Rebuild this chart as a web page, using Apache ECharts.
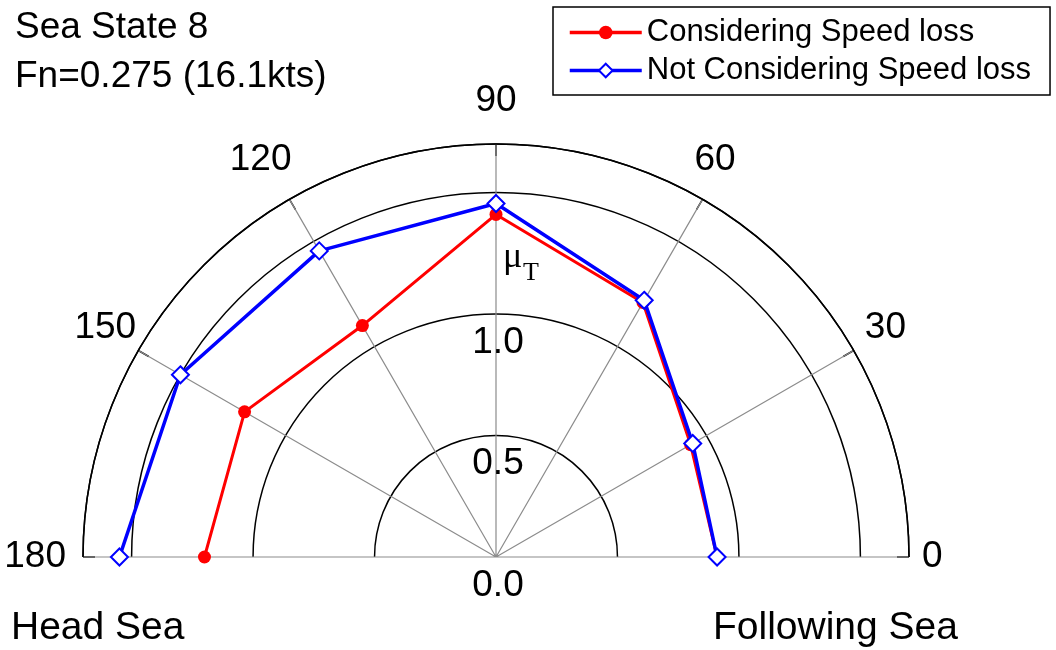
<!DOCTYPE html>
<html>
<head>
<meta charset="utf-8">
<script src="https://cdn.jsdelivr.net/npm/echarts@6/dist/echarts.min.js"></script>
<style>
html,body{margin:0;padding:0;background:#fff;}
#main{width:1056px;height:650px;}
</style>
</head>
<body>
<div id="main"></div>
<script>
// ---- data ----
var headingAngles = [0, 30, 60, 90, 120, 150, 180];
var considering = [0.91, 0.925, 1.21, 1.41, 1.10, 1.195, 1.20];
var notConsidering = [0.91, 0.935, 1.22, 1.455, 1.455, 1.50, 1.55];
var seriesNames = ['Considering Speed loss', 'Not Considering Speed loss'];
var radiusTicks = ['0.0', '0.5', '1.0'];
var titleLines = ['Sea State 8', 'Fn=0.275 (16.1kts)'];
var leftCaption = 'Head Sea';
var rightCaption = 'Following Sea';

var FONT = '"Liberation Sans", Arial, sans-serif';
var SERIF = '"Liberation Serif", "Times New Roman", serif';
var center = [496, 557];
var R = 413;

// label placement paddings (top, right, bottom, left) per angle tick
var labelPad = {
  0: [0, 0, 0, 29], 30: [0, 0, 12, 25], 60: [0, 0, 35, 0], 90: [0, 0, 41, 0],
  120: [0, 6, 35, 0], 150: [0, 16, 12, 0], 180: [0, 33, 0, 0]
};
var angleRich = {};
Object.keys(labelPad).forEach(function (k) {
  angleRich['a' + k] = {fontFamily: FONT, fontSize: 37, color: '#000', padding: labelPad[k]};
});

function toPolar(vals) {
  return headingAngles.map(function (a, i) { return [vals[i], a]; });
}

var chart = echarts.init(document.getElementById('main'), null, {renderer: 'canvas'});
chart.setOption({
  backgroundColor: '#fff',
  animation: false,
  title: [
    {text: titleLines.join('\n'), left: 10, top: -2,
     textStyle: {fontFamily: FONT, fontSize: 37, fontWeight: 'normal', color: '#000', lineHeight: 49}},
    {text: leftCaption, left: 6, top: 604,
     textStyle: {fontFamily: FONT, fontSize: 39, fontWeight: 'normal', color: '#000'}},
    {text: rightCaption, left: 708, top: 604,
     textStyle: {fontFamily: FONT, fontSize: 39, fontWeight: 'normal', color: '#000'}}
  ],
  legend: {
    orient: 'vertical',
    left: 553, top: 7,
    padding: [10, 19, 9, 15],
    itemGap: 7,
    itemWidth: 72,
    itemHeight: 17,
    borderColor: '#000',
    borderWidth: 1.5,
    backgroundColor: '#fff',
    lineStyle: {width: 3.5},
    textStyle: {fontFamily: FONT, fontSize: 31, color: '#000'},
    data: seriesNames
  },
  polar: [
    {center: center, radius: R},
    {center: center, radius: R}
  ],
  angleAxis: [
    {
      polarIndex: 0, type: 'value', min: 0, max: 180, interval: 30,
      startAngle: 0, endAngle: 180, clockwise: false,
      axisLine: {show: true, lineStyle: {color: '#000', width: 1.5}},
      axisTick: {show: true, inside: true, length: 12, lineStyle: {color: '#000', width: 1.5}},
      axisLabel: {
        show: true, margin: -16, fontFamily: FONT, fontSize: 37, color: '#000',
        formatter: function (v) { return '{a' + v + '|' + v + '}'; },
        rich: angleRich
      },
      splitLine: {show: true, lineStyle: {color: '#8c8c8c', width: 1.2}}
    },
    {
      polarIndex: 1, type: 'value', min: 0, max: 360, startAngle: 90,
      show: false
    }
  ],
  radiusAxis: [
    {
      polarIndex: 0, type: 'value', min: 0, max: 1.7, interval: 0.5,
      axisLine: {show: false}, axisTick: {show: false}, axisLabel: {show: false},
      splitLine: {show: true, lineStyle: {color: '#000', width: 1.5}}
    },
    {
      polarIndex: 1, type: 'value', min: 0, max: 1.7, interval: 0.5,
      axisLine: {show: false}, axisTick: {show: false}, splitLine: {show: false},
      axisLabel: {
        show: true, margin: 0, align: 'center', verticalAlign: 'top', padding: [10, 0, 0, 4],
        fontFamily: FONT, fontSize: 37, color: '#000',
        formatter: function (v) {
          var s = v.toFixed(1);
          return radiusTicks.indexOf(s) >= 0 ? s : '';
        }
      }
    }
  ],
  graphic: [
    {type: 'text', left: 503, top: 240, z: 10,
     style: {text: 'μ', fontFamily: SERIF, fontSize: 36, fill: '#000'}},
    {type: 'text', left: 523, top: 260, z: 10,
     style: {text: 'T', fontFamily: SERIF, fontSize: 26, fill: '#000'}}
  ],
  series: [
    {
      name: seriesNames[0], type: 'line', coordinateSystem: 'polar', polarIndex: 0,
      data: toPolar(considering),
      symbol: 'circle', symbolSize: 13,
      lineStyle: {color: '#ff0000', width: 3},
      itemStyle: {color: '#ff0000'},
      z: 3
    },
    {
      name: seriesNames[1], type: 'line', coordinateSystem: 'polar', polarIndex: 0,
      data: toPolar(notConsidering),
      symbol: 'emptyDiamond', symbolSize: 17,
      lineStyle: {color: '#0000ff', width: 3.5},
      itemStyle: {color: '#0000ff', borderColor: '#0000ff', borderWidth: 1.2},
      z: 4
    }
  ]
});
</script>
</body>
</html>
